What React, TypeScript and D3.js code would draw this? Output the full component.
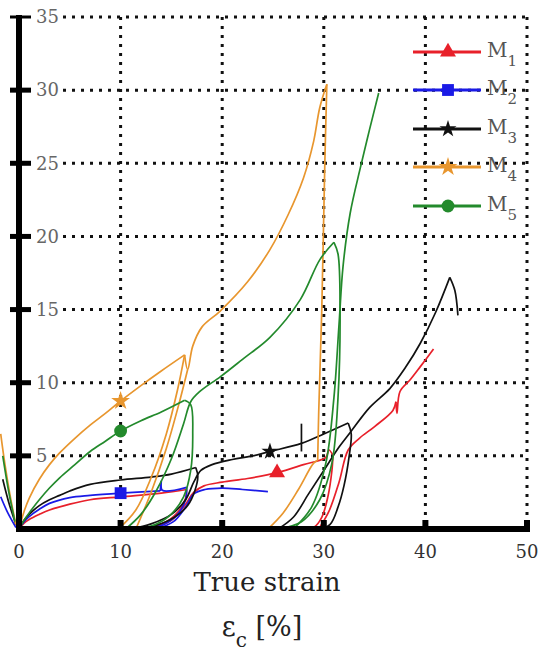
import React from "react";
import * as d3 from "d3";

type Pt = [number, number];

const xTicks = [0, 10, 20, 30, 40, 50];
const yTicks = [5, 10, 15, 20, 25, 30, 35];
const seriesNames = ["M1", "M2", "M3", "M4", "M5"];
const seriesColors = ["#e8202a", "#1a1ae6", "#111111", "#e8962e", "#238a2c"];

// M1 (red)
const m1Segments: Pt[][] = [
  [[0, 0], [0.5, 0.4], [1, 0.65], [2, 1.0], [3, 1.3], [5, 1.7], [7, 2.0], [10, 2.2], [14, 2.45], [16.5, 2.7]],
  [[16.5, 2.7], [16.4, 2.1], [15.8, 1.3], [14.5, 0.5], [12.5, 0.05], [11.5, 0]],
  [[13, 0], [15, 0.6], [16.3, 1.6], [17.2, 2.5], [18.2, 2.95], [20, 3.2], [22.5, 3.45], [25.4, 3.85], [28, 4.4], [30.2, 4.9], [30.5, 5.4], [30.9, 5.05]],
  [[30.9, 5.05], [30.8, 4], [30.4, 2.2], [29.8, 0.8], [29, 0.1], [28, 0]],
  [[29.5, 0], [30.5, 1.2], [31.5, 3.2], [32.4, 5.4], [33.5, 6.2], [35, 7.0], [36.8, 8.1], [37.1, 8.7]],
  [[37.1, 8.7], [37.2, 7.9], [37.5, 9.4], [38.5, 10.2], [39.5, 11.1], [40.8, 12.3]],
];
const m1Marker: Pt[] = [[25.4, 3.85]];

// M2 (blue)
const m2Segments: Pt[][] = [
  [[0, 0], [0.5, 0.5], [1, 0.85], [2, 1.35], [3, 1.75], [5, 2.15], [7, 2.3], [10, 2.45], [13.9, 2.6]],
  [[13.9, 2.6], [14.0, 3.3], [14.1, 2.65], [16.5, 2.85]],
  [[16.5, 2.85], [16.4, 2.0], [15.6, 1.0], [14.2, 0.3], [12.5, 0]],
  [[13.5, 0], [15.2, 0.5], [16.4, 1.5], [17.2, 2.4], [18.3, 2.7], [20, 2.8], [22, 2.7], [24.5, 2.55]],
  [[-1.8, 2.2], [-1.1, 1.1], [-0.3, 0.1]],
];
const m2Marker: Pt[] = [[10, 2.45]];

// M3 (black)
const m3Segments: Pt[][] = [
  [[0, 0], [0.5, 0.6], [1, 1.0], [2, 1.6], [3, 2.0], [4, 2.3], [5, 2.6], [7, 3.05], [10, 3.35], [13, 3.55], [15, 3.75], [17.4, 4.2]],
  [[17.4, 4.2], [17.6, 3.6], [17.3, 2.6], [16.6, 1.6], [15.3, 0.8], [13.5, 0.25], [11.5, 0]],
  [[11, 0], [13, 0.35], [15, 1.0], [16.4, 2.0], [17.2, 3.2], [17.9, 4.0], [19, 4.4], [21, 4.75], [23, 5.0], [24.7, 5.3], [27.8, 5.85], [30, 6.5], [32.4, 7.25]],
  [[27.8, 5.3], [27.8, 7.2]],
  [[32.4, 7.25], [32.7, 6.5], [32.5, 5], [32, 3], [31.4, 1.5], [30.6, 0.3], [29.5, 0]],
  [[25.5, 0], [27, 0.8], [28.5, 2.4], [30, 4], [31.5, 5.6], [32.6, 6.6], [34.5, 8.3], [36.5, 9.6], [38, 11], [39.5, 12.7], [41, 14.8], [42.4, 17.2]],
  [[42.4, 17.2], [42.9, 16.3], [43.2, 14.6]],
  [[-1.6, 3.4], [-1.0, 1.8], [-0.3, 0.3]],
];
const m3Marker: Pt[] = [[24.7, 5.3]];

// M4 (orange)
const m4Segments: Pt[][] = [
  [[0, 0], [0.5, 1.2], [1, 2.1], [2, 3.4], [3, 4.4], [4, 5.2], [5.5, 6.2], [7, 7.1], [8.5, 7.9], [10, 8.75], [12, 9.8], [14, 10.8], [16.3, 11.9]],
  [[16.3, 11.9], [16.6, 10.9], [17.1, 12.5], [18, 13.8], [19.8, 14.9], [22.5, 16.9], [24.7, 19.1], [26.5, 21.5], [28, 24.0], [29, 26.5], [29.6, 28.8], [30.3, 30.4]],
  [[16.3, 11.9], [15.6, 9.5], [14.5, 6.5], [13, 3.5], [11.5, 1.3], [9.8, 0]],
  [[11.5, 0], [13, 2.5], [14.5, 5.5], [15.8, 8.7], [16.6, 10.9]],
  [[30.3, 30.4], [30.1, 25], [29.8, 15], [29.5, 8], [29.4, 4.7]],
  [[29.4, 4.7], [29.0, 4.5], [27.5, 2.7], [26, 1.1], [24.5, 0]],
  [[-1.8, 6.5], [-1.4, 4.5], [-0.8, 2], [-0.3, 0.3]],
];
const m4Marker: Pt[] = [[10, 8.75]];

// M5 (green)
const m5Segments: Pt[][] = [
  [[0, 0], [0.5, 0.6], [1, 1.1], [2, 2.0], [3, 2.8], [4, 3.5], [5.5, 4.4], [7, 5.3], [8.5, 6.0], [10, 6.7], [12, 7.4], [14, 8.0], [16.3, 8.8]],
  [[16.3, 8.8], [16.9, 8.5], [17.1, 6.5], [16.9, 4], [16.2, 2.2], [14.8, 0.9], [13, 0.2], [11, 0]],
  [[10.5, 0], [12, 1.0], [13.5, 2.6], [15, 4.8], [16.2, 7.2], [16.9, 8.7], [17.8, 9.4], [19.8, 10.4], [22, 11.6], [24.7, 13.1], [27.7, 15.7], [29.6, 18.4], [31.0, 19.6]],
  [[31.0, 19.6], [31.4, 18.8], [31.6, 15], [31.4, 9], [30.8, 4.5], [29.6, 2], [27.8, 0.5], [25.5, 0]],
  [[27, 0], [28.8, 1.5], [30.2, 4.5], [31, 9], [31.5, 14], [31.9, 18], [32.6, 21.6], [33.6, 24.7], [34.5, 27.3], [35.4, 29.8]],
  [[-1.6, 5], [-1, 2.5], [-0.4, 0.5]],
];
const m5Marker: Pt[] = [[10, 6.7]];

const allSegments = [m1Segments, m2Segments, m3Segments, m4Segments, m5Segments];
const allMarkers = [m1Marker, m2Marker, m3Marker, m4Marker, m5Marker];
const markerSymbols = [d3.symbolTriangle, d3.symbolSquare, d3.symbolStar, d3.symbolStar, d3.symbolCircle];
const markerSizes = [110, 140, 90, 110, 130];

const FONT = '"DejaVu Serif", serif';

export default function App() {
  const x = d3.scaleLinear().domain([0, 50]).range([19, 527]);
  const y = d3.scaleLinear().domain([0, 35]).range([529, 17]);
  const line = d3
    .line<Pt>()
    .x((d) => x(d[0]))
    .y((d) => y(d[1]))
    .curve(d3.curveCatmullRom.alpha(0.5));
  const straight = d3
    .line<Pt>()
    .x((d) => x(d[0]))
    .y((d) => y(d[1]));

  const legendY = [52, 90, 129, 167, 206];
  const ts = { fontFamily: FONT };

  return (
    <svg
      width={539}
      height={656}
      style={{ position: "absolute", left: 0, top: 0, background: "#fff", fontFamily: FONT }}
    >
      {/* grid */}
      <g stroke="#111" strokeWidth={3} strokeDasharray="3,6" fill="none">
        {yTicks.map((t) => (
          <line key={"gy" + t} x1={t < 10 ? 52 : 63} x2={x(50)} y1={y(t)} y2={y(t)} />
        ))}
        {xTicks.filter((t) => t > 0).map((t) => (
          <line key={"gx" + t} x1={x(t)} x2={x(t)} y1={y(35)} y2={y(0)} />
        ))}
      </g>

      {/* curves */}
      {allSegments.map((segs, i) => (
        <g key={"s" + i} stroke={seriesColors[i]} strokeWidth={1.7} fill="none" strokeLinejoin="round">
          {segs.map((s, j) => (
            <path key={j} d={(s.length > 2 ? line(s) : straight(s)) || ""} />
          ))}
        </g>
      ))}

      {/* markers */}
      {allMarkers.map((ms, i) =>
        ms.map((m, j) => (
          <path
            key={"m" + i + "-" + j}
            transform={`translate(${x(m[0])},${y(m[1])})`}
            d={d3.symbol(markerSymbols[i], markerSizes[i])() || ""}
            fill={seriesColors[i]}
          />
        ))
      )}

      {/* axes */}
      <line x1={x(0)} x2={x(0)} y1={y(35) - 2} y2={y(0) + 3} stroke="#000" strokeWidth={6} />
      <line x1={x(0) - 3} x2={x(50) + 3} y1={y(0)} y2={y(0)} stroke="#000" strokeWidth={6} />
      {yTicks.map((t) => (
        <line key={"yt" + t} x1={x(0) - 9} x2={x(0) + 12} y1={y(t)} y2={y(t)} stroke="#000" strokeWidth={t === 35 ? 3 : 5} />
      ))}
      {xTicks.filter((t) => t > 0).map((t) => (
        <line key={"xt" + t} x1={x(t)} x2={x(t)} y1={y(0)} y2={y(0) - 9} stroke="#000" strokeWidth={6} />
      ))}

      {/* tick labels */}
      {yTicks.map((t) => (
        <text key={"yl" + t} x={36} y={y(t)} dy="0.35em" fontSize={18} fill="#666" style={ts}>
          {t}
        </text>
      ))}
      {xTicks.map((t) => (
        <text key={"xl" + t} x={x(t)} y={558} textAnchor="middle" fontSize={18} fill="#333" style={ts}>
          {t}
        </text>
      ))}

      {/* axis titles */}
      <text x={267} y={591} textAnchor="middle" fontSize={26} fill="#222" style={ts}>
        True strain
      </text>
      <text x={262} y={636} textAnchor="middle" fontSize={27} fill="#222" style={ts}>
        ε<tspan fontSize={20} dy={11}>c</tspan>
        <tspan dy={-11}> [%]</tspan>
      </text>

      {/* legend */}
      {seriesNames.map((n, i) => (
        <g key={"lg" + i}>
          <line x1={413} x2={481} y1={legendY[i]} y2={legendY[i]} stroke={seriesColors[i]} strokeWidth={3} />
          <path
            transform={`translate(448,${legendY[i]})`}
            d={d3.symbol(markerSymbols[i], markerSizes[i])() || ""}
            fill={seriesColors[i]}
          />
          <text x={487} y={legendY[i] + 5} fontSize={20} fill="#555" style={ts}>
            {n[0]}
            <tspan fontSize={15} dy={9}>{n.slice(1)}</tspan>
          </text>
        </g>
      ))}
    </svg>
  );
}
